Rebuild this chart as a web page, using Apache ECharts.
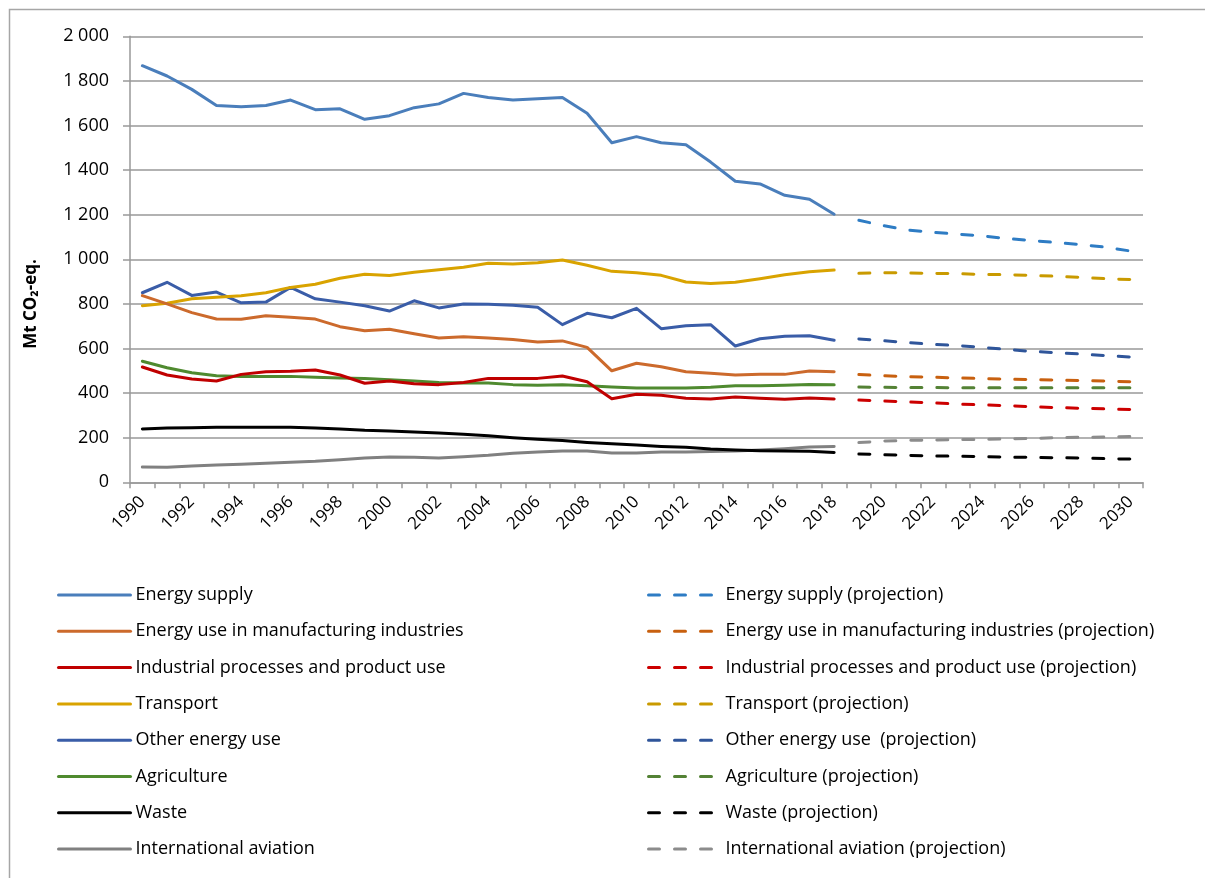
<!DOCTYPE html>
<html>
<head>
<meta charset="utf-8">
<script src="https://cdn.jsdelivr.net/npm/echarts@6/dist/echarts.min.js"></script>
<style>
html,body{margin:0;padding:0;background:#fff;}
#chart{width:1205px;height:878px;}
</style>
</head>
<body>
<div id="chart"></div>
<script>
// ---- Data ----
const histYears = ['1990','1991','1992','1993','1994','1995','1996','1997','1998','1999','2000','2001','2002','2003','2004','2005','2006','2007','2008','2009','2010','2011','2012','2013','2014','2015','2016','2017','2018'];
const projYears = ['2019','2020','2021','2022','2023','2024','2025','2026','2027','2028','2029','2030'];
const allYears = ['1990','1991','1992','1993','1994','1995','1996','1997','1998','1999','2000','2001','2002','2003','2004','2005','2006','2007','2008','2009','2010','2011','2012','2013','2014','2015','2016','2017','2018','2019','2020','2021','2022','2023','2024','2025','2026','2027','2028','2029','2030'];

const energySupply = [1868,1822,1762,1690,1684,1690,1714,1671,1675,1628,1644,1680,1697,1744,1726,1714,1720,1726,1655,1523,1550,1523,1514,1436,1350,1338,1287,1269,1202];
const manufacturing = [837,800,761,732,731,747,740,732,698,680,686,666,647,653,647,640,629,634,605,500,534,518,496,489,481,484,484,499,496];
const industrial = [517,481,463,454,484,496,498,504,481,444,454,442,438,448,466,466,466,477,451,375,395,390,377,374,383,377,372,378,374];
const transport = [792,803,823,830,837,850,874,888,915,933,927,942,953,964,982,979,985,997,973,946,940,928,898,891,897,913,931,944,952];
const otherEnergy = [850,897,838,853,805,808,874,823,808,792,768,814,782,800,798,794,785,707,758,738,780,689,702,707,611,644,655,657,637];
const agriculture = [543,514,491,478,474,474,475,471,468,466,460,454,448,445,445,438,435,437,433,427,423,423,423,426,433,433,435,439,437];
const waste = [239,243,245,247,247,247,247,243,239,233,230,226,221,215,209,200,193,187,179,173,167,161,157,149,145,142,140,139,134];
const aviation = [69,67,73,78,81,85,90,94,101,109,113,112,109,115,121,130,136,140,140,131,131,136,136,138,140,145,151,158,161];

const energySupplyProj = [1175,1151,1131,1121,1113,1105,1093,1084,1075,1066,1054,1037];
const manufacturingProj = [483,478,474,471,468,465,463,460,459,456,454,451];
const industrialProj = [369,365,360,356,351,347,344,339,335,332,329,326];
const transportProj = [937,940,939,937,936,932,931,928,924,919,913,909];
const otherEnergyProj = [643,635,626,619,613,605,596,587,581,575,568,562];
const agricultureProj = [427,426,425,425,424,424,424,424,424,424,424,424];
const wasteProj = [127,124,121,118,117,115,113,112,110,109,106,104];
const aviationProj = [178,185,188,190,191,193,194,197,200,202,203,205];

const histNames = ['Energy supply','Energy use in manufacturing industries','Industrial processes and product use','Transport','Other energy use','Agriculture','Waste','International aviation'];
const projNames = ['Energy supply (projection)','Energy use in manufacturing industries (projection)','Industrial processes and product use (projection)','Transport (projection)','Other energy use  (projection)','Agriculture (projection)','Waste (projection)','International aviation (projection)'];
const histData = [energySupply, manufacturing, industrial, transport, otherEnergy, agriculture, waste, aviation];
const projData = [energySupplyProj, manufacturingProj, industrialProj, transportProj, otherEnergyProj, agricultureProj, wasteProj, aviationProj];
const histColors = ['#4A7EBB','#CC6A2C','#C00000','#D9A300','#3A5DA8','#4F8A2F','#000000','#808080'];
const projColors = ['#2E7CC4','#C8600F','#CC0000','#C99A00','#2F559A','#548235','#000000','#8C8C8C'];

const FONT = '"Open Sans", Lato, sans-serif';

const series = [];
histNames.forEach((n, i) => {
  series.push({
    name: n, type: 'line', symbol: 'none', smooth: false,
    data: histData[i].map((v, k) => [histYears[k], v]),
    lineStyle: { color: histColors[i], width: 3, cap: 'round', join: 'round' },
    itemStyle: { color: histColors[i] },
    z: 10 - i
  });
});
projNames.forEach((n, i) => {
  series.push({
    name: n, type: 'line', symbol: 'none', smooth: false,
    data: projData[i].map((v, k) => [projYears[k], v]),
    lineStyle: { color: projColors[i], width: 3, type: [11, 15], cap: 'round' },
    itemStyle: { color: projColors[i] },
    z: 10 - i
  });
});

const legendCommon = {
  orient: 'vertical', top: 585, padding: 0,
  itemWidth: 72, itemHeight: 20, itemGap: 16.3,
  itemStyle: { opacity: 0 },
  lineStyle: { width: 3 },
  textStyle: { fontSize: 18, color: '#000', fontFamily: FONT, lineHeight: 20 },
  selectedMode: false
};

const chart = echarts.init(document.getElementById('chart'), null, { renderer: 'canvas' });
chart.setOption({
  animation: false,
  backgroundColor: '#fff',
  textStyle: { fontFamily: FONT },
  graphic: [
    {
      type: 'rect', left: 7, top: 7, silent: true,
      shape: { width: 1220, height: 900 },
      style: { fill: 'none', stroke: '#A6A6A6', lineWidth: 1.5 }
    },
    {
      type: 'text', x: 31, y: 304, rotation: Math.PI / 2, silent: true,
      style: {
        text: 'Mt CO\u2082-eq.', fontSize: 17, fontWeight: 'bold', fontFamily: FONT,
        fill: '#000', align: 'center', verticalAlign: 'middle'
      }
    }
  ],
  grid: { left: 130, top: 36.3, right: 62, bottom: 395.7, outerBoundsMode: 'none', containLabel: false },
  xAxis: {
    type: 'category', data: allYears, boundaryGap: true,
    axisLine: { lineStyle: { color: '#999', width: 1.5 } },
    axisTick: { show: true, interval: 0, length: 6, lineStyle: { color: '#999', width: 1.5 } },
    axisLabel: { interval: 1, rotate: 45, fontSize: 17, color: '#000', fontFamily: FONT, margin: 17 },
    splitLine: { show: false }
  },
  yAxis: {
    type: 'value', min: 0, max: 2000, interval: 200,
    axisLine: { show: true, lineStyle: { color: '#999', width: 1.5 } },
    axisTick: { show: true, length: 7, lineStyle: { color: '#999', width: 1.5 } },
    axisLabel: {
      fontSize: 18, color: '#000', fontFamily: FONT, margin: 21,
      formatter: v => String(v).replace(/\B(?=(\d{3})+(?!\d))/g, ' ')
    },
    splitLine: { lineStyle: { color: '#999', width: 1.5 } }
  },
  legend: [
    Object.assign({}, legendCommon, { data: histNames, left: 57 }),
    Object.assign({}, legendCommon, { data: projNames, left: 647 })
  ],
  series: series
});
</script>
</body>
</html>
